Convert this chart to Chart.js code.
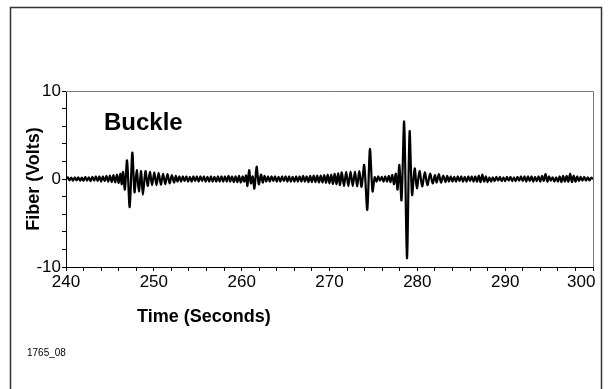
<!DOCTYPE html>
<html>
<head>
<meta charset="utf-8">
<title>Buckle - Fiber (Volts)</title>
<script src="https://cdn.jsdelivr.net/npm/chart.js@4.4.1/dist/chart.umd.min.js"></script>
<style>
  html, body { margin: 0; padding: 0; background: #fff; }
  #wrap { width: 608px; height: 389px; position: relative; }
</style>
</head>
<body>
<div id="wrap"><canvas id="chart" width="608" height="389"></canvas></div>
<script>
// [seconds, volts], one array per stretch of the record
const quietStart = [
  [240.0, 0.0], [240.2, 0.2], [240.4, -0.15], [240.6, 0.15], [240.8, -0.2], [241.0, 0.2],
  [241.2, -0.15], [241.4, 0.2], [241.6, -0.2], [241.8, 0.15], [242.0, -0.2], [242.2, 0.25],
  [242.4, -0.2], [242.6, 0.2], [242.8, -0.25], [243.0, 0.25], [243.2, -0.2], [243.4, 0.3],
  [243.6, -0.25], [243.8, 0.3], [244.0, -0.3], [244.2, 0.3], [244.4, -0.25], [244.6, 0.35],
  [244.8, -0.3], [245.0, 0.4], [245.2, -0.35], [245.4, 0.45], [245.6, -0.4], [245.8, 0.5],
  [246.0, -0.45], [246.2, 0.6], [246.35, -0.6]
];
const burst247 = [
  [246.5, 0.8], [246.7, -1.2], [246.95, 2.1], [247.25, -3.2], [247.55, 3.0], [247.8, -1.5],
  [248.05, 1.0], [248.3, -1.4], [248.55, 0.9], [248.75, -1.8], [249.05, 0.9], [249.3, -0.8],
  [249.55, 0.8], [249.8, -0.7], [250.05, 0.75], [250.3, -0.7], [250.55, 0.7], [250.8, -0.65],
  [251.05, 0.6], [251.3, -0.6], [251.55, 0.55], [251.8, -0.5], [252.05, 0.45], [252.3, -0.4]
];
const quietMid1 = [
  [252.5, 0.35], [252.7, -0.3], [252.9, 0.3], [253.1, -0.3], [253.3, 0.3], [253.5, -0.25],
  [253.7, 0.3], [253.9, -0.3], [254.1, 0.25], [254.3, -0.3], [254.5, 0.3], [254.7, -0.25],
  [254.9, 0.3], [255.1, -0.3], [255.3, 0.3], [255.5, -0.25], [255.7, 0.3], [255.9, -0.3],
  [256.1, 0.25], [256.3, -0.3], [256.5, 0.3], [256.7, -0.3], [256.9, 0.25], [257.1, -0.3],
  [257.3, 0.3], [257.5, -0.3], [257.7, 0.3], [257.9, -0.3], [258.1, 0.3], [258.3, -0.3],
  [258.5, 0.35], [258.7, -0.3], [258.9, 0.3], [259.1, -0.35], [259.3, 0.3], [259.5, -0.35],
  [259.7, 0.35], [259.9, -0.4], [260.1, 0.3], [260.3, -0.3]
];
const burst261 = [
  [260.5, 0.4], [260.65, -0.8], [260.85, 1.0], [261.05, -0.5], [261.25, 0.3], [261.45, -1.1],
  [261.7, 1.4], [261.95, -0.6], [262.2, 0.5], [262.4, -0.4], [262.6, 0.35]
];
const quietMid2 = [
  [262.8, -0.3], [263.0, 0.3], [263.2, -0.3], [263.4, 0.3], [263.6, -0.25], [263.8, 0.3],
  [264.0, -0.3], [264.2, 0.25], [264.4, -0.3], [264.6, 0.3], [264.8, -0.25], [265.0, 0.3],
  [265.2, -0.3], [265.4, 0.3], [265.6, -0.3], [265.8, 0.25], [266.0, -0.3], [266.2, 0.3],
  [266.4, -0.3], [266.6, 0.3], [266.8, -0.3], [267.0, 0.35], [267.2, -0.3], [267.4, 0.3],
  [267.6, -0.35], [267.8, 0.35], [268.0, -0.35], [268.2, 0.4], [268.4, -0.35], [268.6, 0.4],
  [268.8, -0.4], [269.0, 0.4], [269.2, -0.4], [269.4, 0.45], [269.6, -0.45], [269.8, 0.5],
  [270.0, -0.5], [270.2, 0.5], [270.4, -0.55], [270.6, 0.6], [270.8, -0.6], [271.0, 0.65],
  [271.2, -0.7]
];
const burst274 = [
  [271.4, 0.75], [271.65, -0.8], [271.9, 0.8], [272.15, -0.8], [272.4, 0.85], [272.65, -0.8],
  [272.9, 0.85], [273.15, -0.85], [273.4, 0.9], [273.65, -0.9], [273.95, 1.6], [274.3, -3.5],
  [274.6, 3.4], [274.9, -1.4], [275.15, 0.2], [275.35, -0.3], [275.55, 0.3], [275.75, -0.2],
  [275.95, 0.25], [276.15, -0.3], [276.35, 0.3], [276.55, -0.3], [276.75, 0.35], [276.95, -0.35]
];
const burst279 = [
  [277.15, 0.45], [277.35, -0.6], [277.55, 0.6], [277.75, -1.2], [277.95, 1.6], [278.2, -2.4],
  [278.5, 6.5], [278.82, -9.0], [279.12, 5.4], [279.4, -1.8], [279.7, 1.2], [279.95, -1.05],
  [280.25, 0.9], [280.55, -0.85], [280.85, 0.75], [281.15, -0.7], [281.45, 0.6], [281.75, -0.5],
  [282.0, 0.45], [282.2, -0.4], [282.45, 0.55], [282.7, -0.4], [282.95, 0.4]
];
const quietEnd = [
  [283.2, -0.35], [283.4, 0.35], [283.6, -0.3], [283.8, 0.3], [284.0, -0.3], [284.2, 0.25],
  [284.4, -0.3], [284.6, 0.3], [284.8, -0.25], [285.0, 0.3], [285.2, -0.3], [285.4, 0.25],
  [285.6, -0.3], [285.8, 0.3], [286.0, -0.25], [286.2, 0.3], [286.4, -0.3], [286.6, 0.3],
  [286.8, -0.3], [287.0, 0.4], [287.2, -0.35], [287.4, 0.5], [287.6, -0.3], [287.8, 0.3],
  [288.0, -0.35], [288.2, 0.2], [288.4, -0.3], [288.6, 0.2], [288.8, -0.25], [289.0, 0.25],
  [289.2, -0.2], [289.4, 0.25], [289.6, -0.25], [289.8, 0.2], [290.0, -0.25], [290.2, 0.25],
  [290.4, -0.2], [290.6, 0.25], [290.8, -0.25], [291.0, 0.2], [291.2, -0.25], [291.4, 0.25],
  [291.6, -0.2], [291.8, 0.3], [292.0, -0.25], [292.2, 0.3], [292.4, -0.3], [292.6, 0.3],
  [292.8, -0.25], [293.0, 0.3], [293.2, -0.3], [293.4, 0.25], [293.6, -0.25], [293.8, 0.3],
  [294.0, -0.3], [294.2, 0.35], [294.4, -0.2], [294.6, 0.55], [294.8, -0.3], [295.0, 0.3],
  [295.2, -0.2], [295.4, 0.2], [295.6, -0.3], [295.8, 0.2], [296.0, -0.3], [296.2, 0.3],
  [296.4, -0.35], [296.6, 0.35], [296.8, -0.3], [297.0, 0.35], [297.2, -0.3], [297.4, 0.6],
  [297.6, -0.35], [297.8, 0.4], [298.0, -0.3], [298.2, 0.3], [298.4, -0.25], [298.6, 0.25],
  [298.8, -0.2], [299.0, 0.25], [299.2, -0.2], [299.4, 0.2], [299.6, -0.15], [299.8, 0.15],
  [300.0, 0.0]
];

const xMin = 240, xMax = 300, xStep = 2;
const yMin = -10, yMax = 10, yStep = 2;
const labelEvery = 10; // only 240, 250 ... and -10, 0, 10 get a label

const FONT = '"Liberation Sans", Arial, sans-serif';

const trace = [].concat(quietStart, burst247, quietMid1, burst261, quietMid2, burst274, burst279, quietEnd)
  .map(p => ({ x: p[0], y: p[1] }));

// frame, plot box top/right edges and free text
const extras = {
  id: 'extras',
  beforeDraw(chart) {
    const ctx = chart.ctx;
    ctx.save();
    ctx.fillStyle = '#fff';
    ctx.fillRect(0, 0, chart.width, chart.height);
    ctx.restore();
  },
  afterDraw(chart) {
    const ctx = chart.ctx;
    const a = chart.chartArea;
    ctx.save();
    ctx.strokeStyle = '#777';
    ctx.lineWidth = 1;
    ctx.beginPath();
    ctx.moveTo(a.left, Math.round(a.top) + 0.5);
    ctx.lineTo(Math.round(a.right) + 0.5, Math.round(a.top) + 0.5);
    ctx.lineTo(Math.round(a.right) + 0.5, a.bottom);
    ctx.stroke();

    ctx.strokeStyle = '#333';
    ctx.lineWidth = 1.5;
    ctx.strokeRect(10.5, 7.5, 591, 400);

    ctx.fillStyle = '#000';
    ctx.textBaseline = 'alphabetic';
    ctx.textAlign = 'left';
    ctx.font = 'bold 24px ' + FONT;
    ctx.fillText('Buckle', 104, 130);
    ctx.font = 'bold 18px ' + FONT;
    ctx.fillText('Time (Seconds)', 137, 322);
    ctx.font = '10px ' + FONT;
    ctx.fillText('1765_08', 27, 356);
    ctx.restore();
  }
};

// the last x label sits inside the frame in the original, so pad it on the right
const xLabel = v => {
  if (v % labelEvery !== 0) return '';
  return v === xMax ? String(v) + '\u00a0\u00a0\u00a0\u00a0\u00a0' : String(v);
};

new Chart(document.getElementById('chart'), {
  type: 'line',
  data: {
    datasets: [{
      data: trace,
      borderColor: '#000',
      borderWidth: 2.2,
      pointRadius: 0,
      tension: 0.3,
      fill: false
    }]
  },
  options: {
    responsive: false,
    animation: false,
    devicePixelRatio: 1,
    layout: { padding: { left: 0, top: 91, right: 15, bottom: 0 } },
    plugins: {
      legend: { display: false },
      tooltip: { enabled: false }
    },
    scales: {
      x: {
        type: 'linear',
        min: xMin,
        max: xMax,
        afterFit: s => {
          s.height = 122;
          s.paddingLeft = 0;
          s.paddingRight = 0;
        },
        border: { color: '#000', width: 1 },
        grid: { drawOnChartArea: false, tickLength: 4, color: '#000' },
        ticks: {
          stepSize: xStep,
          autoSkip: false,
          maxRotation: 0,
          padding: 1,
          color: '#000',
          font: { family: FONT, size: 17 },
          callback: xLabel
        }
      },
      y: {
        min: yMin,
        max: yMax,
        afterFit: s => { s.width = 66; },
        border: { color: '#000', width: 1 },
        grid: { drawOnChartArea: false, tickLength: 4, color: '#000' },
        ticks: {
          stepSize: yStep,
          autoSkip: false,
          padding: 1,
          color: '#000',
          font: { family: FONT, size: 17 },
          callback: v => (v % labelEvery === 0 ? String(v) : '')
        },
        title: {
          display: true,
          text: 'Fiber (Volts)',
          color: '#000',
          font: { family: FONT, size: 18, weight: 'bold' },
          padding: { top: 23, bottom: 0 }
        }
      }
    }
  },
  plugins: [extras]
});
</script>
</body>
</html>
